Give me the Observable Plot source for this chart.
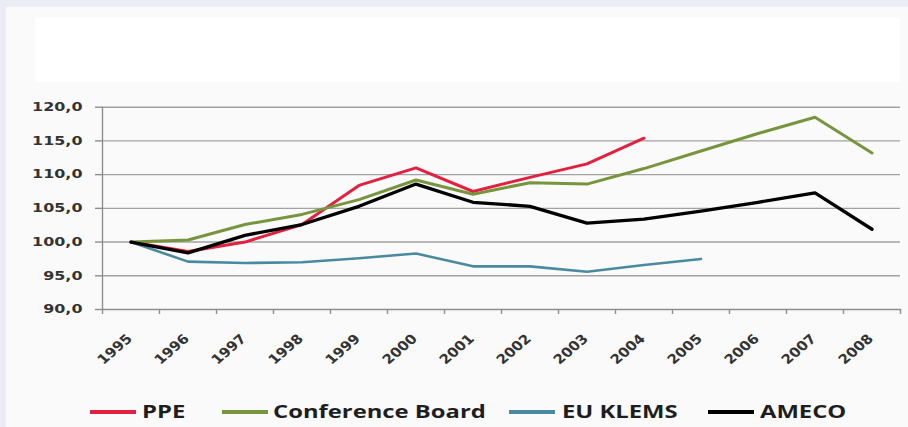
<!DOCTYPE html>
<html><head><meta charset="utf-8">
<script src="https://cdn.jsdelivr.net/npm/d3@7"></script>
<script src="https://cdn.jsdelivr.net/npm/@observablehq/plot@0.6"></script>
<style>
html,body{margin:0;padding:0;}
body{width:908px;height:427px;background:#ecedf4;position:relative;overflow:hidden;}
#panel{position:absolute;left:6px;top:7px;right:0;bottom:0;background:#fafafa;}
#titlebox{position:absolute;left:35px;top:18px;width:865px;height:64px;background:#ffffff;}
#chart{position:absolute;left:0;top:0;}
#legend{position:absolute;left:0;top:0;width:908px;height:427px;}
.sw{position:absolute;height:3.5px;}
.lt{position:absolute;font-family:"Open Sans",sans-serif;font-weight:700;font-size:17px;color:#1e1e1e;transform-origin:0 50%;transform:scaleX(1.4);white-space:nowrap;line-height:17px;}
</style></head>
<body>
<div id="panel"></div><div id="titlebox"></div>
<div id="chart"></div>
<div id="legend"></div>
<script>
// ---- data ----
const years = ["1995","1996","1997","1998","1999","2000","2001","2002","2003","2004","2005","2006","2007","2008"];
const seriesNames = ["PPE", "Conference Board", "EU KLEMS", "AMECO"];
const seriesColors = ["#e2203f", "#77953c", "#4a8aa1", "#000000"];
const ppe = [100.0, 98.6, 100.0, 102.6, 108.4, 111.0, 107.5, 109.6, 111.6, 115.4];
const conferenceBoard = [100.0, 100.3, 102.6, 104.1, 106.3, 109.2, 107.1, 108.8, 108.6, 110.9, 113.5, 116.1, 118.5, 113.2];
const euKlems = [100.0, 97.1, 96.9, 97.0, 97.6, 98.3, 96.4, 96.4, 95.6, 96.6, 97.5];
const ameco = [100.0, 98.4, 101.0, 102.6, 105.3, 108.6, 105.9, 105.3, 102.8, 103.4, 104.6, 105.9, 107.3, 101.9];
const yTicks = [90, 95, 100, 105, 110, 115, 120];

// ---- build table ----
const seriesValues = [ppe, conferenceBoard, euKlems, ameco];
const rows = [];
seriesNames.forEach((name, k) => {
  seriesValues[k].forEach((v, i) => rows.push({series: name, year: years[i], value: v}));
});

// ---- layout ----
const W = 908, H = 390;
const mL = 102, mR = 8, mT = 106.7, mB = 81;
const bw = (W - mL - mR) / years.length;

const plot = Plot.plot({
  width: W, height: H,
  marginLeft: mL, marginRight: mR, marginTop: mT, marginBottom: mB,
  style: {background: "transparent", overflow: "visible", fontFamily: "DejaVu Sans", fontSize: "12px", fontWeight: "bold", color: "#333"},
  x: {type: "band", domain: years, padding: 0, axis: null},
  y: {domain: [90, 120], axis: null},
  color: {domain: seriesNames, range: seriesColors},
  marks: [
    Plot.ruleY(yTicks.filter(d => d > 90), {stroke: "#a2a2a2", strokeWidth: 1.4}),
    Plot.ruleY([90], {stroke: "#8e8e8e", strokeWidth: 1.4}),
    Plot.ruleX([years[0]], {y1: 90, y2: 120, dx: -bw / 2, stroke: "#8e8e8e", strokeWidth: 1.4}),
    Plot.ruleX(years, {y1: 90, y2: 90.75, dx: -bw / 2, dy: 5, stroke: "#8e8e8e", strokeWidth: 1.4}),
    Plot.ruleX([years[years.length - 1]], {y1: 90, y2: 90.75, dx: bw / 2, dy: 5, stroke: "#8e8e8e", strokeWidth: 1.4}),
    Plot.axisY({ticks: yTicks, tickSize: 7, tickPadding: 13, stroke: "#8e8e8e", strokeWidth: 1.4,
      tickFormat: d => d.toFixed(1).replace(".", ","), label: null, fill: "#333", fontWeight: "bold", fontSize: 12}),
    Plot.text(years, {x: d => d, y: () => 90, text: d => d, rotate: -45, textAnchor: "end", lineAnchor: "bottom",
      dx: 2, dy: 30, fontSize: 13, fontWeight: "bold", fill: "#333"}),
    Plot.line(rows, {x: "year", y: "value", z: "series", stroke: "series",
      strokeWidth: d => d.series === "EU KLEMS" ? 2.6 : (d.series === "AMECO" ? 3.3 : 3), strokeLinejoin: "round"})
  ]
});
document.getElementById("chart").appendChild(plot);

// horizontal stretch of the tick labels (reference image is stretched)
function stretch(sel, S) {
  sel.each(function () {
    const t = this.getAttribute("transform");
    if (t) {
      if (t.includes("rotate(")) this.setAttribute("transform", t.replace("rotate(", `scale(${S},1) rotate(`));
      else this.setAttribute("transform", t + ` scale(${S},1)`);
    } else {
      const x = +this.getAttribute("x") || 0, y = +this.getAttribute("y") || 0;
      this.removeAttribute("x"); this.removeAttribute("y");
      this.setAttribute("transform", `translate(${x},${y}) scale(${S},1)`);
    }
  });
}
stretch(d3.select(plot).selectAll('g[aria-label="y-axis tick label"] text'), 1.33);
stretch(d3.select(plot).selectAll('g[aria-label="text"] text'), 1.15);

// ---- legend (below the svg) ----
const legend = document.getElementById("legend");
const swX = [90, 222, 509, 708];
const txX = [142, 273, 562, 760];
seriesNames.forEach((name, k) => {
  const sw = document.createElement("div");
  sw.className = "sw";
  sw.style.left = swX[k] + "px"; sw.style.top = "410px"; sw.style.width = "46px";
  sw.style.background = seriesColors[k];
  legend.appendChild(sw);
  const tx = document.createElement("div");
  tx.className = "lt";
  tx.style.left = txX[k] + "px"; tx.style.top = "403px";
  tx.textContent = name;
  legend.appendChild(tx);
});
</script>
</body></html>
